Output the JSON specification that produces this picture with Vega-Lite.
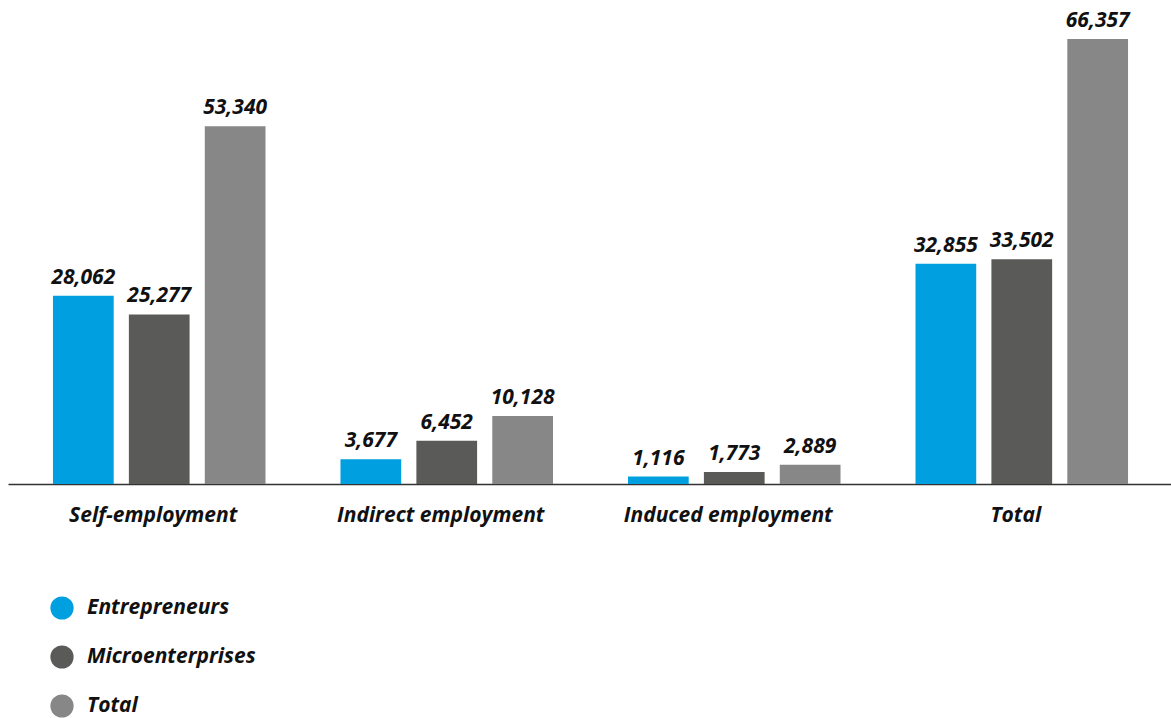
{
  "$schema": "https://vega.github.io/schema/vega-lite/v6.json",
  "width": 1165,
  "height": 484,
  "autosize": {"type": "none"},
  "padding": {"left": 8, "top": 0, "right": 0, "bottom": 234},
  "background": "white",
  "config": {
    "view": {"stroke": null},
    "font": "Open Sans"
  },
  "data": {
    "values": [
      {"category": "Self-employment", "series": "Entrepreneurs", "value": 28062},
      {"category": "Self-employment", "series": "Microenterprises", "value": 25277},
      {"category": "Self-employment", "series": "Total", "value": 53340},
      {"category": "Indirect employment", "series": "Entrepreneurs", "value": 3677},
      {"category": "Indirect employment", "series": "Microenterprises", "value": 6452},
      {"category": "Indirect employment", "series": "Total", "value": 10128},
      {"category": "Induced employment", "series": "Entrepreneurs", "value": 1116},
      {"category": "Induced employment", "series": "Microenterprises", "value": 1773},
      {"category": "Induced employment", "series": "Total", "value": 2889},
      {"category": "Total", "series": "Entrepreneurs", "value": 32855},
      {"category": "Total", "series": "Microenterprises", "value": 33502},
      {"category": "Total", "series": "Total", "value": 66357}
    ]
  },
  "encoding": {
    "x": {
      "field": "category",
      "type": "nominal",
      "sort": ["Self-employment", "Indirect employment", "Induced employment", "Total"],
      "scale": {"paddingInner": 0.208, "paddingOuter": 0.13},
      "axis": {
        "title": null,
        "labelAngle": 0,
        "labelFont": "Open Sans",
        "labelFontSize": 21,
        "labelFontWeight": "bold",
        "labelFontStyle": "italic",
        "labelColor": "#111111",
        "labelPadding": 20,
        "labelLimit": 400,
        "labelOffset": -6,
        "ticks": false,
        "domainColor": "#333333",
        "domainWidth": 1.5
      }
    },
    "xOffset": {
      "field": "series",
      "type": "nominal",
      "sort": ["Entrepreneurs", "Microenterprises", "Total"],
      "scale": {"paddingInner": 0.2, "paddingOuter": 0.1}
    },
    "y": {
      "field": "value",
      "type": "quantitative",
      "scale": {"domain": [0, 72172], "nice": false},
      "axis": null
    }
  },
  "layer": [
    {
      "mark": {"type": "bar"},
      "encoding": {
        "color": {
          "field": "series",
          "type": "nominal",
          "sort": ["Entrepreneurs", "Microenterprises", "Total"],
          "scale": {
            "domain": ["Entrepreneurs", "Microenterprises", "Total"],
            "range": ["#009FDF", "#5A5A59", "#878787"]
          },
          "legend": {
            "title": null,
            "orient": "none",
            "legendX": 42,
            "legendY": 596,
            "direction": "vertical",
            "symbolType": "circle",
            "symbolSize": 540,
            "symbolStrokeWidth": 0,
            "symbolOpacity": 1,
            "labelFont": "Open Sans",
            "labelFontSize": 21,
            "labelFontWeight": "bold",
            "labelFontStyle": "italic",
            "labelColor": "#111111",
            "labelOffset": 13,
            "rowPadding": 25,
            "labelLimit": 400
          }
        }
      }
    },
    {
      "mark": {
        "type": "text",
        "baseline": "alphabetic",
        "dy": -12,
        "font": "Open Sans",
        "fontSize": 21,
        "fontWeight": "bold",
        "fontStyle": "italic",
        "color": "#111111"
      },
      "encoding": {
        "text": {"field": "value", "type": "quantitative", "format": ",d"}
      }
    }
  ]
}
